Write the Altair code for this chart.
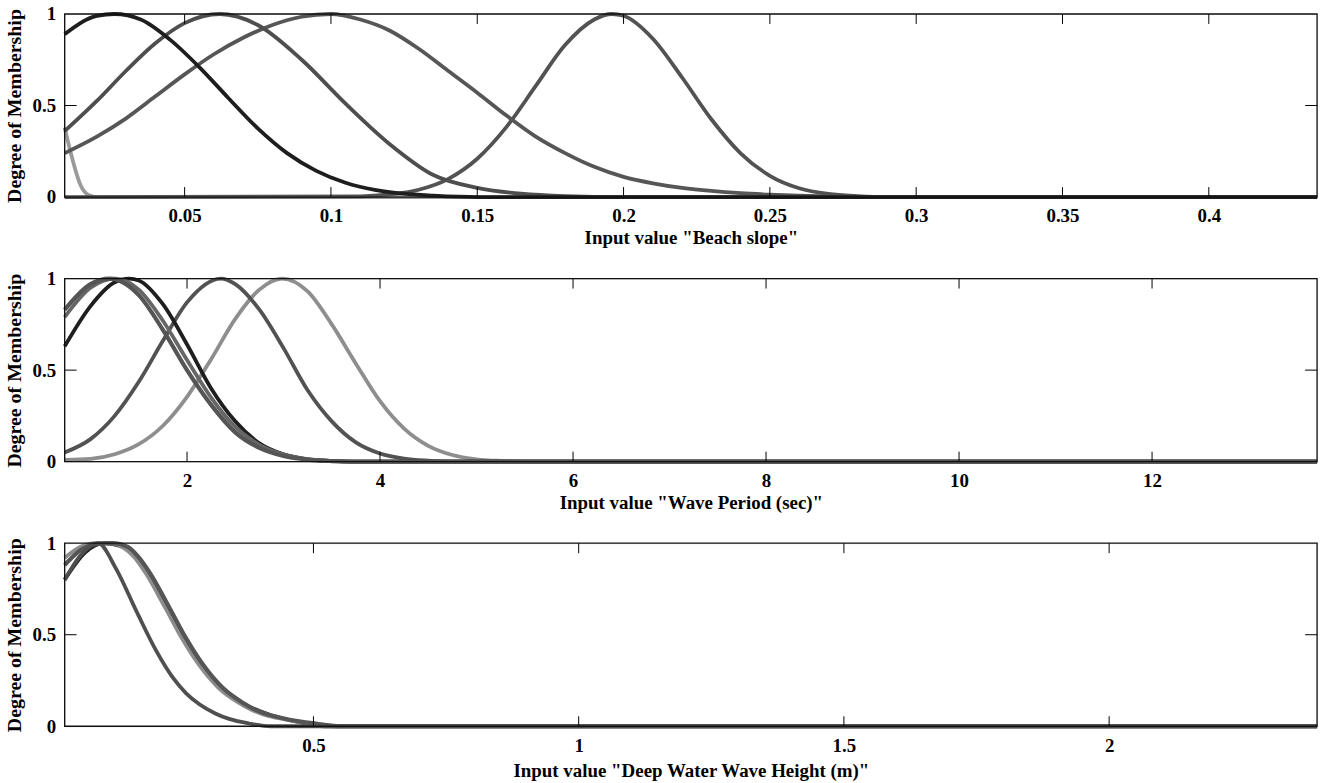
import altair as alt
import pandas as pd

# ---------------- Panel 1 : Beach slope ----------------
P1_DOMAIN = [0.009, 0.437]
P1_TICKS = [0.05, 0.1, 0.15, 0.2, 0.25, 0.3, 0.35, 0.4]
P1_TITLE = 'Input value "Beach slope"'

A_X = [0.009, 0.02, 0.026, 0.035, 0.045, 0.055, 0.065, 0.075, 0.085, 0.095, 0.105, 0.115, 0.125, 0.135, 0.15, 0.437]
A_Y = [0.89, 0.99, 1.0, 0.97, 0.86, 0.71, 0.54, 0.375, 0.24, 0.143, 0.078, 0.039, 0.018, 0.008, 0.0, 0.0]

B_X = [0.009, 0.02, 0.03, 0.04, 0.05, 0.062, 0.075, 0.09, 0.105, 0.12, 0.135, 0.15, 0.165, 0.18, 0.2, 0.437]
B_Y = [0.36, 0.525, 0.69, 0.84, 0.95, 1.0, 0.94, 0.75, 0.51, 0.29, 0.12, 0.05, 0.018, 0.005, 0.0, 0.0]

C_X = [0.009, 0.02, 0.03, 0.04, 0.05, 0.06, 0.07, 0.08, 0.09, 0.1, 0.11, 0.12, 0.13, 0.14, 0.15, 0.16,
       0.17, 0.18, 0.19, 0.2, 0.21, 0.22, 0.23, 0.24, 0.25, 0.26, 0.27, 0.28, 0.437]
C_Y = [0.24, 0.33, 0.43, 0.55, 0.67, 0.78, 0.87, 0.94, 0.985, 1.0, 0.97, 0.91, 0.81, 0.69, 0.57, 0.445,
       0.33, 0.24, 0.165, 0.11, 0.075, 0.05, 0.033, 0.021, 0.013, 0.007, 0.003, 0.0, 0.0]

D_X = [0.009, 0.11, 0.12, 0.13, 0.14, 0.15, 0.16, 0.17, 0.18, 0.19, 0.196, 0.2, 0.21, 0.22, 0.23, 0.24,
       0.25, 0.26, 0.27, 0.28, 0.29, 0.437]
D_Y = [0.0, 0.004, 0.014, 0.04, 0.098, 0.209, 0.383, 0.607, 0.83, 0.97, 1.0, 0.99, 0.865, 0.653, 0.425, 0.239,
       0.116, 0.048, 0.017, 0.005, 0.0, 0.0]

E_X = [0.009, 0.0116, 0.0144, 0.0173, 0.02, 0.437]
E_Y = [0.38, 0.21, 0.066, 0.01, 0.0, 0.0]

# ---------------- Panel 2 : Wave period ----------------
P2_DOMAIN = [0.732, 13.71]
P2_TICKS = [2, 4, 6, 8, 10, 12]
P2_TITLE = 'Input value "Wave Period (sec)"'

P_X = [0.732, 1.0, 1.25, 1.4, 1.5, 1.75, 2.0, 2.25, 2.5, 2.75, 3.0, 3.25, 3.5, 3.75, 13.71]
P_Y = [0.63, 0.85, 0.98, 1.0, 0.99, 0.86, 0.64, 0.40, 0.22, 0.10, 0.04, 0.013, 0.004, 0.0, 0.0]

Q1_X = [0.732, 1.0, 1.2, 1.5, 1.75, 2.0, 2.25, 2.5, 2.75, 3.0, 3.25, 3.5, 3.75, 13.71]
Q1_Y = [0.83, 0.97, 1.0, 0.91, 0.72, 0.50, 0.31, 0.16, 0.075, 0.031, 0.011, 0.003, 0.0, 0.0]

Q2_X = [0.732, 1.0, 1.26, 1.5, 1.75, 2.0, 2.25, 2.5, 2.75, 3.0, 3.25, 3.5, 3.75, 13.71]
Q2_Y = [0.79, 0.95, 1.0, 0.94, 0.77, 0.555, 0.35, 0.19, 0.092, 0.039, 0.014, 0.004, 0.0, 0.0]

R_X = [0.732, 1.0, 1.25, 1.5, 1.75, 2.0, 2.35, 2.5, 2.75, 3.0, 3.25, 3.5, 3.75, 4.0, 4.25, 4.5, 4.75, 13.71]
R_Y = [0.05, 0.123, 0.25, 0.436, 0.66, 0.87, 1.0, 0.97, 0.83, 0.62, 0.39, 0.22, 0.105, 0.044, 0.016, 0.005, 0.0, 0.0]

S_X = [0.732, 1.0, 1.25, 1.5, 1.75, 2.0, 2.25, 2.5, 2.75, 2.985, 3.25, 3.5, 3.75, 4.0, 4.25, 4.5, 4.75,
       5.0, 5.25, 5.5, 13.71]
S_Y = [0.01, 0.015, 0.04, 0.095, 0.196, 0.354, 0.56, 0.78, 0.94, 1.0, 0.93, 0.75, 0.535, 0.33, 0.18, 0.086, 0.036,
       0.013, 0.004, 0.0, 0.0]

# ---------------- Panel 3 : Deep water wave height ----------------
P3_DOMAIN = [0.031, 2.392]
P3_TICKS = [0.5, 1, 1.5, 2]
P3_TITLE = 'Input value "Deep Water Wave Height (m)"'

U3_X = [0.031, 0.07, 0.105, 0.14, 0.185, 0.225, 0.255, 0.29, 0.33, 0.37, 0.42, 0.47, 0.52, 2.392]
U3_Y = [0.80, 0.95, 1.0, 0.98, 0.84, 0.64, 0.48, 0.33, 0.2, 0.12, 0.06, 0.025, 0.0, 0.0]

U2_X = [0.031, 0.06, 0.09, 0.112, 0.142, 0.162, 0.183, 0.221, 0.252, 0.283, 0.321, 0.358, 0.383, 0.405, 0.432,
        0.468, 0.5, 0.54, 2.392]
U2_Y = [0.92, 0.98, 1.0, 1.0, 0.975, 0.925, 0.84, 0.645, 0.48, 0.34, 0.21, 0.13, 0.09, 0.065, 0.045,
        0.025, 0.012, 0.0, 0.0]

U1_X = [0.031, 0.06, 0.09, 0.12, 0.15, 0.17, 0.191, 0.229, 0.26, 0.291, 0.329, 0.366, 0.391, 0.413, 0.44,
        0.476, 0.51, 0.55, 2.392]
U1_Y = [0.88, 0.96, 0.995, 1.0, 0.98, 0.925, 0.84, 0.645, 0.48, 0.34, 0.21, 0.13, 0.09, 0.065, 0.045,
        0.025, 0.012, 0.0, 0.0]

T_X = [0.031, 0.06, 0.094, 0.128, 0.166, 0.204, 0.235, 0.26, 0.285, 0.315, 0.341, 0.379, 0.42, 2.392]
T_Y = [0.80, 0.93, 1.0, 0.86, 0.63, 0.41, 0.265, 0.18, 0.12, 0.07, 0.04, 0.015, 0.0, 0.0]

Y_TICKS = [0, 0.5, 1]
Y_TITLE = "Degree of Membership"

W, H = 1259, 184
FONT = "Liberation Serif"
TICK_LEN = 10
LW = 3.8


def panel(curves, domain, ticks, title, title_pad=3):
    rows = []
    for name, xs, ys, color, sw in curves:
        for i, (x, y) in enumerate(zip(xs, ys)):
            rows.append({"curve": name, "x": x, "y": y, "i": i})
    df = pd.DataFrame(rows)

    xenc = alt.X("x:Q", scale=alt.Scale(domain=domain, nice=False, zero=False),
                 axis=alt.Axis(values=ticks, title=title, labelExpr="'' + datum.value",
                               tickSize=0, domain=False, grid=False, labelFont=FONT,
                               labelFontSize=19, labelFontWeight="bold", labelColor="#000",
                               labelPadding=10, labelOverlap=False, labelFlush=False,
                               titleFont=FONT, titleFontSize=19, titleFontWeight="bold",
                               titleColor="#000", titlePadding=title_pad))
    yenc = alt.Y("y:Q", scale=alt.Scale(domain=[0, 1], nice=False),
                 axis=alt.Axis(values=Y_TICKS, title=Y_TITLE, labelExpr="'' + datum.value",
                               tickSize=0, domain=False, grid=False, labelFont=FONT,
                               labelFontSize=19, labelFontWeight="bold", labelColor="#000",
                               labelPadding=9, labelOverlap=False, labelFlush=False,
                               titleFont=FONT, titleFontSize=20, titleFontWeight="bold",
                               titleColor="#000", titlePadding=8))
    layers = []
    for name, xs, ys, color, sw in curves:
        layers.append(
            alt.Chart(df).transform_filter(alt.datum.curve == name)
            .mark_line(color=color, strokeWidth=sw, interpolate="monotone", clip=False)
            .encode(x=xenc, y=yenc, order="i:Q")
        )
    tdf = pd.DataFrame({"x": ticks})
    layers.append(alt.Chart(tdf).mark_rule(color="#000", strokeWidth=1)
                  .encode(x="x:Q", y=alt.value(H), y2=alt.value(H - TICK_LEN)))
    layers.append(alt.Chart(tdf).mark_rule(color="#000", strokeWidth=1)
                  .encode(x="x:Q", y=alt.value(0), y2=alt.value(TICK_LEN)))
    ydf = pd.DataFrame({"y": [0.5]})
    layers.append(alt.Chart(ydf).mark_rule(color="#000", strokeWidth=1)
                  .encode(y="y:Q", x=alt.value(0), x2=alt.value(TICK_LEN + 2)))
    layers.append(alt.Chart(ydf).mark_rule(color="#000", strokeWidth=1)
                  .encode(y="y:Q", x=alt.value(W - TICK_LEN - 2), x2=alt.value(W)))
    layers.append(alt.Chart(ydf).mark_rect(fill="transparent", stroke="#111", strokeWidth=1.3)
                  .encode(x=alt.value(0), x2=alt.value(W), y=alt.value(0), y2=alt.value(H)))
    return alt.layer(*layers).properties(width=W, height=H)


p1 = panel([
    ("E", E_X, E_Y, "#9a9a9a", LW),
    ("D", D_X, D_Y, "#525252", LW),
    ("C", C_X, C_Y, "#565656", LW),
    ("B", B_X, B_Y, "#4e4e4e", LW),
    ("A", A_X, A_Y, "#1e1e1e", LW),
], P1_DOMAIN, P1_TICKS, P1_TITLE)

p2 = panel([
    ("S", S_X, S_Y, "#8e8e8e", LW),
    ("R", R_X, R_Y, "#525252", LW),
    ("P", P_X, P_Y, "#1e1e1e", LW),
    ("Q2", Q2_X, Q2_Y, "#666666", LW),
    ("Q1", Q1_X, Q1_Y, "#555555", LW + 0.4),
], P2_DOMAIN, P2_TICKS, P2_TITLE)

p3 = panel([
    ("U3", U3_X, U3_Y, "#222222", LW),
    ("U2", U2_X, U2_Y, "#8c8c8c", LW),
    ("U1", U1_X, U1_Y, "#555555", LW + 0.4),
    ("T", T_X, T_Y, "#4f4f4f", LW),
], P3_DOMAIN, P3_TICKS, P3_TITLE, title_pad=7)

chart = alt.vconcat(p1, p2, p3, spacing=20).properties(
    padding={"left": 3, "top": 2, "right": 4, "bottom": 0}
).configure_view(stroke=None).configure(background="white")

chart.save("out.html", embed_options={"renderer": "svg", "actions": False})
